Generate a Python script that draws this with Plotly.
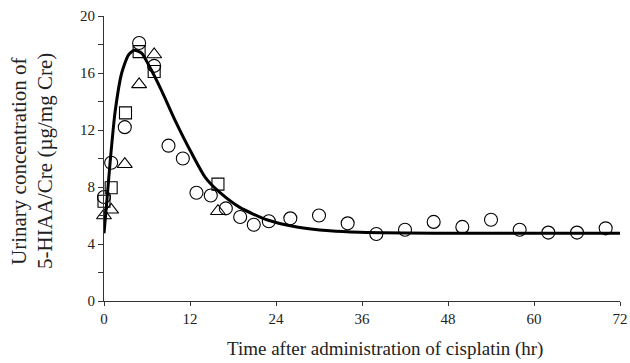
import plotly.graph_objects as go

circle_x = [0, 1, 2.9, 4.9, 7, 9, 11, 12.9, 14.9, 17, 19, 20.9, 23, 26, 30, 34, 38, 42, 46, 50, 54, 58, 62, 66, 70]
circle_y = [7.3, 9.7, 12.2, 18.1, 16.5, 10.9, 10.0, 7.6, 7.4, 6.5, 5.9, 5.35, 5.6, 5.8, 6.0, 5.45, 4.7, 5.0, 5.55, 5.2, 5.7, 5.0, 4.8, 4.8, 5.1]
square_x = [0, 1, 3, 4.9, 7, 15.9]
square_y = [7.0, 7.95, 13.2, 17.5, 16.1, 8.2]
triangle_x = [0, 1, 2.9, 4.9, 7, 15.9]
triangle_y = [6.0, 6.4, 9.6, 15.2, 17.3, 6.3]

# Fitted curve
curve_x = [0.0, 0.37, 0.84, 1.53, 2.47, 3.4, 4.2, 5.25, 6.4, 8.0, 9.9, 12.2, 14.1, 16.2, 19.0, 22.7, 26.9, 31.5, 35.7, 42, 50, 60, 72]
curve_y = [4.75, 6.85, 9.66, 13.2, 16.0, 17.26, 17.6, 17.4, 16.4, 14.8, 12.7, 10.4, 8.7, 7.6, 6.55, 5.7, 5.2, 4.93, 4.82, 4.77, 4.75, 4.75, 4.75]

x_title = "Time after administration of cisplatin (hr)"
y_title_lines = ["Urinary concentration of", "5-HIAA/Cre (µg/mg Cre)"]

FONT = "Liberation Serif, Times New Roman, serif"
TXT = "#222"

L, R, T, B = 104, 10, 16, 62
W, H = 630, 363
PW, PH = W - L - R, H - T - B

fig = go.Figure()
fig.add_trace(go.Scatter(x=curve_x, y=curve_y, mode="lines",
                         line=dict(color="black", width=3, shape="spline", smoothing=0.6),
                         hoverinfo="skip", cliponaxis=False))
fig.add_trace(go.Scatter(x=circle_x, y=circle_y, mode="markers",
                         marker=dict(symbol="circle-open", size=13, color="black", line=dict(width=1.1)),
                         cliponaxis=False))
fig.add_trace(go.Scatter(x=square_x, y=square_y, mode="markers",
                         marker=dict(symbol="square-open", size=12, color="black", line=dict(width=1.1)),
                         cliponaxis=False))
fig.add_trace(go.Scatter(x=triangle_x, y=triangle_y, mode="markers",
                         marker=dict(symbol="triangle-up-open", size=13, color="black", line=dict(width=1.1)),
                         cliponaxis=False))

annotations = [
    dict(text=x_title, xref="paper", yref="paper", x=(385 - L) / PW, y=(H - B - 349) / PH,
         xanchor="center", yanchor="middle", showarrow=False, font=dict(size=19, family=FONT, color=TXT)),
]
for cx, line in zip([19, 45], y_title_lines):
    annotations.append(dict(text=line, xref="paper", yref="paper", x=(cx - L) / PW, y=(H - B - 161) / PH,
                            xanchor="center", yanchor="middle", textangle=-90, showarrow=False,
                            font=dict(size=21, family=FONT, color=TXT)))

fig.update_layout(
    width=W, height=H,
    margin=dict(l=L, r=R, t=T, b=B),
    paper_bgcolor="white", plot_bgcolor="white",
    showlegend=False,
    font=dict(family=FONT, color=TXT, size=15),
    annotations=annotations,
    xaxis=dict(range=[0, 72], tick0=0, dtick=12, ticks="outside", ticklen=4, tickcolor="#333",
               showline=True, linecolor="#333", linewidth=1, showgrid=False, zeroline=False,
               tickfont=dict(size=15, family=FONT), automargin=False),
    yaxis=dict(range=[0, 20], tick0=0, dtick=4, ticks="outside", ticklen=5, tickcolor="#333",
               minor=dict(dtick=2, ticks="outside", ticklen=5, tickcolor="#333"),
               showline=True, linecolor="#333", linewidth=1, showgrid=False, zeroline=False,
               tickfont=dict(size=15, family=FONT), automargin=False),
)

fig.write_html("out.html")
